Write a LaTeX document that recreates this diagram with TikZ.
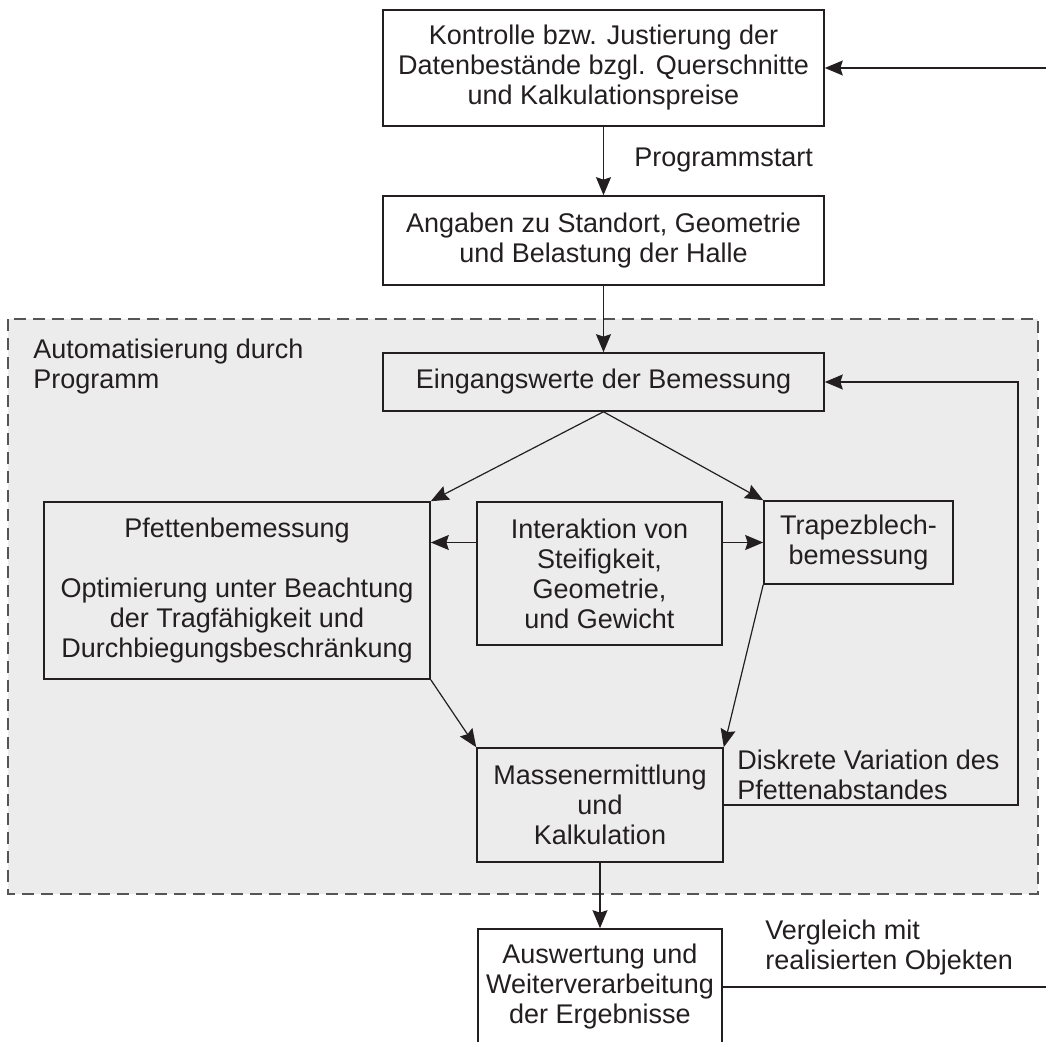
\documentclass[tikz,border=0pt]{standalone}
\usepackage{fontspec}
\setmainfont{Liberation Sans}
\usetikzlibrary{arrows.meta}
\definecolor{ln}{RGB}{35,31,32}
\definecolor{bggray}{RGB}{236,236,236}
\definecolor{dsh}{RGB}{85,85,85}
\newcommand{\figfont}{\fontsize{13.5pt}{15pt}\selectfont}
\begin{document}
\begin{tikzpicture}[x=0.5pt,y=-0.5pt,
  box/.style={draw=ln, line width=0.8pt, inner sep=0pt, align=center, font=\figfont, text=ln},
  arr/.style={draw=ln, line width=0.6pt, -{Stealth[length=9pt,width=7.5pt,inset=1.2pt]}},
  con/.style={draw=ln, line width=0.6pt},
  lbl/.style={inner sep=0pt, align=left, font=\figfont, text=ln}]
\clip (0,0) rectangle (1046,1042);
\fill[bggray] (8,319) rectangle (1038,894);
\draw[dsh, line width=0.75pt, dash pattern=on 6pt off 3.5pt] (8,319) rectangle (1038,894);

\node[box, fill=white, minimum width=220.5pt, minimum height=58pt] (k) at (603.5,68) {Kontrolle bzw. Justierung der\\Datenbestände bzgl. Querschnitte\\und Kalkulationspreise};
\node[box, fill=white, minimum width=220.5pt, minimum height=44.5pt] (a) at (603.5,240.5) {Angaben zu Standort, Geometrie\\und Belastung der Halle};
\node[box, fill=bggray, minimum width=220.5pt, minimum height=29pt] (e) at (603.5,382) {Eingangswerte der Bemessung};
\node[box, fill=bggray, minimum width=193pt, minimum height=88.5pt] (p) at (237,590.5) {Pfettenbemessung\\[15pt]Optimierung unter Beachtung\\der Tragfähigkeit und\\Durchbiegungsbeschränkung};
\node[box, fill=bggray, minimum width=122.5pt, minimum height=71.5pt] (i) at (599.5,573.5) {Interaktion von\\Steifigkeit,\\Geometrie,\\und Gewicht};
\node[box, fill=bggray, minimum width=94.5pt, minimum height=41.5pt] (t) at (858.5,542.5) {Trapezblech-\\bemessung};
\node[box, fill=bggray, minimum width=123pt, minimum height=57pt] (m) at (600,805) {Massenermittlung\\und\\Kalkulation};
\node[box, fill=white, minimum width=122pt, minimum height=58pt] (w) at (600,987) {Auswertung und\\Weiterverarbeitung\\der Ergebnisse};

\node[lbl, anchor=west] (prg) at (634,160) {Programmstart};
\node[lbl, anchor=west] (auto) at (33,367) {Automatisierung durch\\Programm};
\node[lbl, anchor=west] (dis) at (737,775) {Diskrete Variation des\\Pfettenabstandes};
\node[lbl, anchor=west] (vgl) at (765,947.5) {Vergleich mit\\realisierten Objekten};

\draw[arr] (k.south) -- (a.north);
\draw[arr] (a.south) -- (e.north);
\draw[arr] (e.south) -- (p.north east);
\draw[arr] (e.south) -- (t.north west);
\draw[arr] (i.west |- t.west) -- (p.east |- t.west);
\draw[arr] (i.east |- t.west) -- (t.west);
\draw[arr] (p.south east) -- (m.north west);
\draw[arr] (t.south west) -- (m.north east);
\draw[arr] (m.south) -- (w.north);
\coordinate (fb) at (1018,805);
\draw[arr] (m.east) -- (fb) |- (e.east);
\coordinate (r1) at (1046,987);
\coordinate (r2) at (1046,68);
\draw[con] (w.east) -- (r1);
\draw[arr] (r2) -- (k.east);
\end{tikzpicture}
\end{document}
